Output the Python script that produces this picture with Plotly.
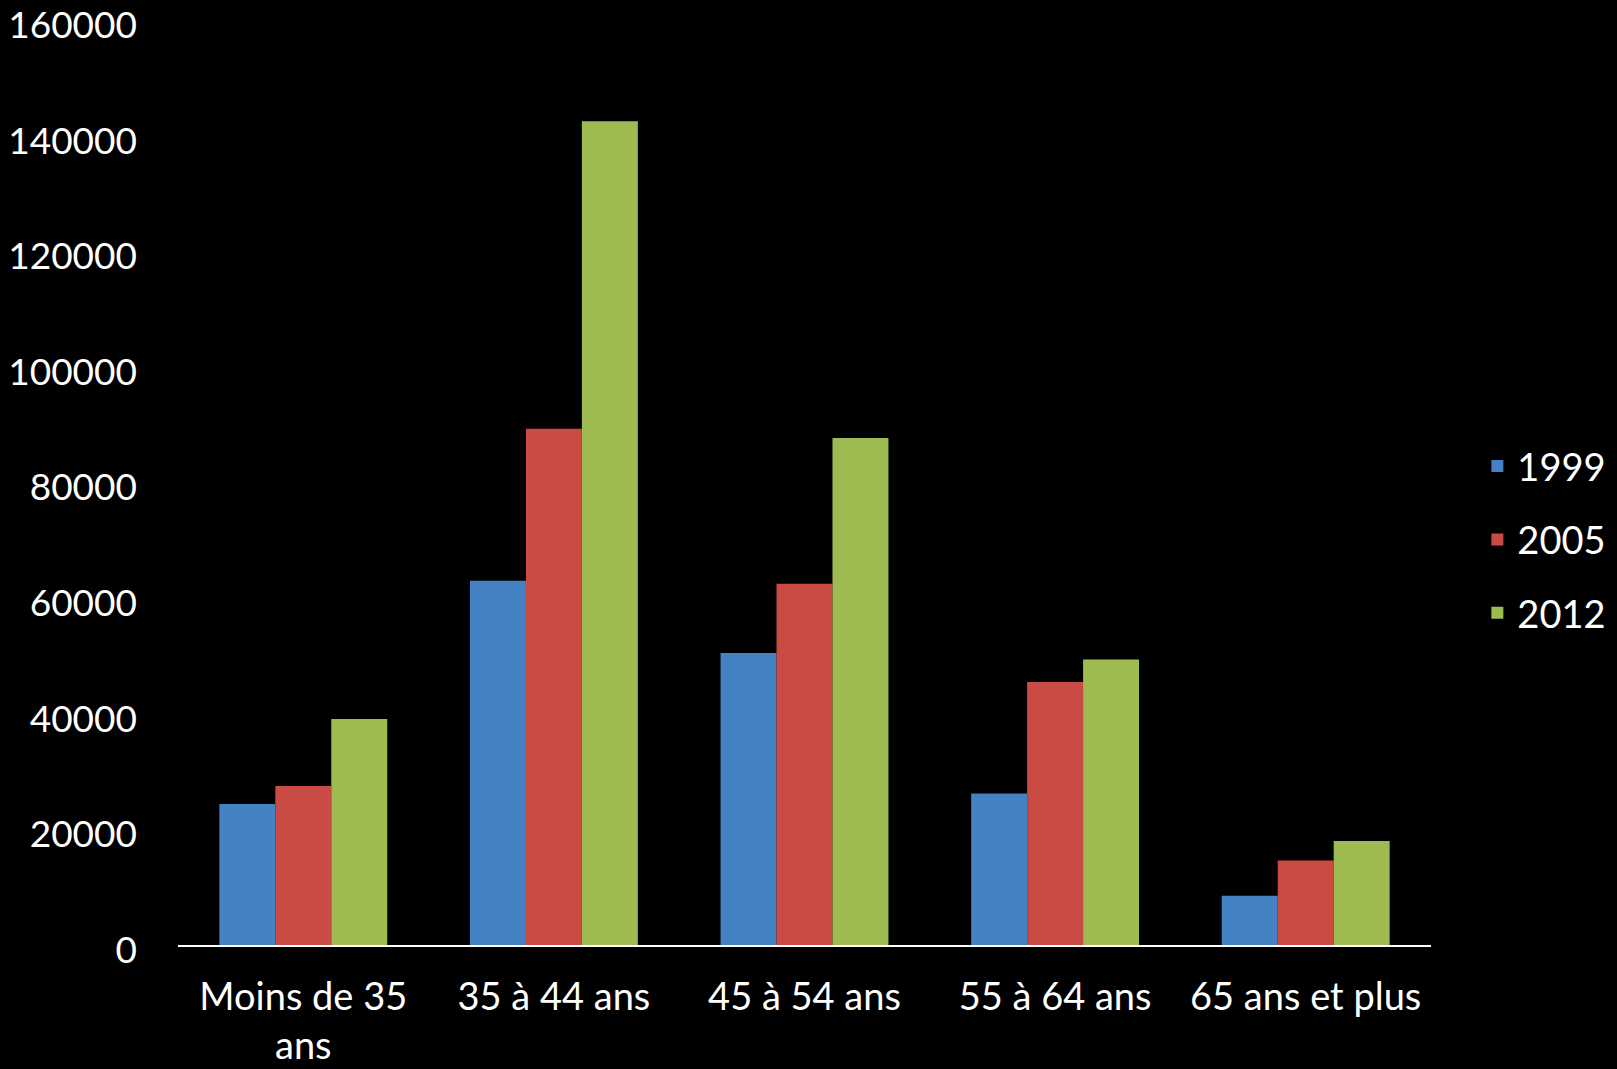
import plotly.graph_objects as go

categories = ["Moins de 35<br>ans", "35 à 44 ans", "45 à 54 ans", "55 à 64 ans", "65 ans et plus"]
series_names = ["1999", "2005", "2012"]
values_1999 = [24400, 63000, 50500, 26200, 8500]
values_2005 = [27500, 89300, 62500, 45500, 14600]
values_2012 = [39100, 142500, 87700, 49400, 18000]
colors = ["#4482c3", "#c94b43", "#9dbb51"]
y_ticks = [0, 20000, 40000, 60000, 80000, 100000, 120000, 140000, 160000]

FONT = "Lato"
fig = go.Figure()
for name, vals, col in zip(series_names, [values_1999, values_2005, values_2012], colors):
    fig.add_trace(go.Bar(
        x=categories, y=vals, name=name, legendgroup=name,
        marker=dict(color=col, line=dict(width=0)),
    ))

fig.update_layout(
    width=1617, height=1069,
    paper_bgcolor="black", plot_bgcolor="black",
    margin=dict(l=178, r=186, t=20, b=124, autoexpand=False),
    barmode="group", bargap=0.33, bargroupgap=0,
    font=dict(family=FONT, color="white", size=37),
    showlegend=True,
    legend=dict(
        x=1.037, y=0.438, xanchor="left", yanchor="middle",
        font=dict(family=FONT, size=38, color="white"),
        bgcolor="rgba(0,0,0,0)", traceorder="grouped", tracegroupgap=21,
        itemwidth=30,
    ),
    xaxis=dict(
        showgrid=False, showline=True, linecolor="white", linewidth=2,
        ticks="", ticklabelstandoff=17, automargin=False,
        tickfont=dict(family=FONT, size=38, color="white"),
        zeroline=False,
    ),
    yaxis=dict(
        range=[0, 160000], tickvals=y_ticks, tickformat="d",
        showgrid=False, showline=False, zeroline=False, ticks="",
        ticklabelstandoff=40, ticklabeloverflow="allow", automargin=False,
        ticklabelshift=5,
        tickfont=dict(family=FONT, size=37, color="white"),
    ),
)

fig.write_html(
    "out.html",
    config={"displayModeBar": False},
    post_script="document.body.style.margin='0';document.body.style.background='black';",
)
